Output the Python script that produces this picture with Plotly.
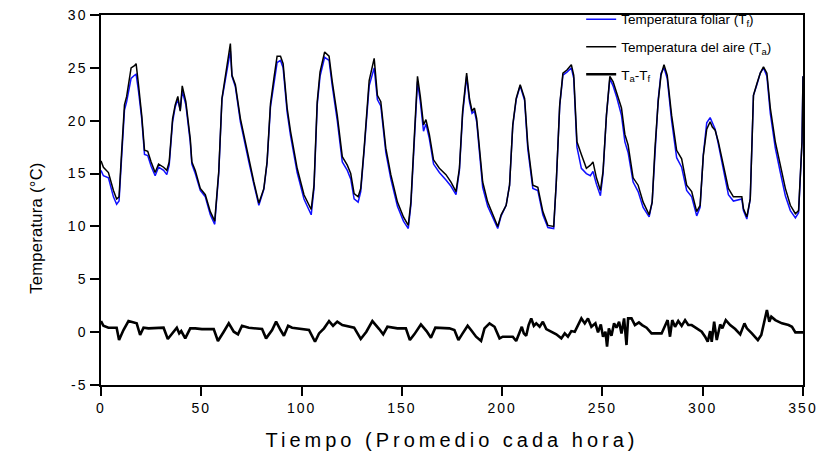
import plotly.graph_objects as go

# Air temperature (Ta) vertices: hour, °C
hours_ta = [0, 1.2, 3.7, 6.2, 7.8, 9, 10.3, 11.7, 12.8, 15, 16.7, 17.5, 18.7, 20.3, 21.7, 23.3, 25, 27, 28.7,
            31.2, 32.8, 34, 35.7, 37, 38.3, 39.2, 39.5, 40.5, 42.3, 44.5, 45.3, 47, 49.5, 52, 54.5, 56.7,
            58.7, 60.3, 62.3, 64.5, 65.3, 67, 69.5, 71.7, 73.7, 76.2, 78.7, 81.2, 82.8, 84.5,
            86.2, 87.8, 89.5, 90.8, 92.8, 94.5, 97.8, 101.2, 104.8, 106.2, 107.8, 109.2, 111.5, 113.7,
            115.3, 117.8, 120.3, 122.8, 124.5, 126.2, 128.2, 129.5, 131.2, 133.7, 136.2, 137.8, 139.5,
            142, 144.5, 147.8, 150.8, 153.2, 154.5, 156.2, 157.8, 159.2, 160.8, 162, 163.7, 165.8,
            168.7, 172, 174.5, 177, 178.7, 180.3, 182.3, 183.7, 185, 186.2, 187.3, 188.7, 190.3, 192.8,
            195.3, 197.8, 199.5, 202, 203.7, 205.3, 207, 209, 211.2, 212.8, 215.3, 217.8, 220.3, 222.8,
            225.7, 227, 228.7, 230.3, 232.3, 234.5, 235.7, 237.3, 239.5, 242, 244, 245.3, 247, 249,
            250.3, 252, 253.7, 255.3, 257, 259.5, 261.2, 262.8, 265.3, 267.8, 270.3, 273.3, 274.8,
            276.2, 277.8, 279.2, 280.7, 282.3, 284.5, 287, 289.5, 292, 294.5, 297, 298.7, 300.3, 302,
            303.7, 304.8, 306.2, 307.8, 310.3, 312.8, 315.3, 318.2, 319.5, 320.3, 322, 323.7, 325.3,
            327, 328.7, 330.3, 332, 333.7, 336.2, 338.7, 341.2, 343.7, 346.2, 347.8, 349.5, 350]
temp_ta = [16.2, 15.6, 15.1, 13.4, 12.6, 12.8, 17.1, 21.5, 22.3, 25.0, 25.2, 25.4, 23.4, 20.5, 17.2, 17.1, 16.1, 15.1, 15.9,
           15.6, 15.3, 16.1, 20.2, 21.5, 22.3, 21.5, 20.9, 23.3, 21.8, 18.3, 16.1, 15.3, 13.6, 13.0, 11.4, 10.5,
           15.2, 22.1, 24.6, 27.3, 24.3, 23.4, 20.2, 18.2, 16.4, 14.2, 12.2, 13.6, 16.1, 21.6,
           24.0, 26.1, 26.1, 25.4, 21.2, 19.0, 15.5, 13.0, 11.6, 13.9, 21.8, 24.6, 26.5, 26.1,
           23.7, 20.5, 16.6, 15.8, 15.0, 13.1, 12.8, 13.6, 17.4, 23.8, 25.9, 22.4, 21.8,
           17.4, 14.9, 12.3, 10.9, 10.1, 12.3, 18.0, 24.2, 22.3, 19.6, 20.1, 18.7, 16.3,
           15.5, 14.9, 14.2, 13.3, 15.5, 20.9, 24.5, 22.1, 20.9, 21.2, 20.2, 17.4, 14.2, 12.3,
           11.1, 10.0, 11.1, 12.0, 13.9, 19.6, 22.1, 23.4, 22.1, 17.7, 13.9, 13.7, 11.4, 10.1,
           10.0, 14.2, 21.5, 24.5, 24.8, 25.3, 24.3, 18.0, 16.8, 15.5, 15.8, 16.1, 14.6, 13.4,
           15.2, 20.5, 24.2, 23.7, 22.7, 21.2, 18.7, 17.7, 14.6, 13.9, 12.3, 11.1, 12.3,
           17.4, 21.8, 24.3, 25.3, 24.3, 20.5, 17.2, 16.4, 13.9, 13.3, 11.4, 12.0, 16.7, 19.2,
           19.9, 19.4, 19.1, 18.0, 15.8, 13.6, 12.8, 12.8, 12.8, 11.7, 10.9, 12.6, 22.4,
           23.5, 24.5, 25.1, 24.5, 21.2, 18.0, 15.8, 13.6, 12.0, 11.2, 11.5, 18.0, 24.2]

# Leaf temperature (Tf) vertices: hour, °C
hours_tf = hours_ta
temp_tf = [15.3, 14.8, 14.6, 12.8, 12.1, 12.4, 16.6, 21.0, 21.8, 24.0, 24.3, 24.4, 22.8, 20.2, 16.8, 16.7, 15.7, 14.8, 15.6,
           15.3, 14.9, 15.8, 19.9, 21.3, 22.0, 21.4, 21.0, 22.8, 21.5, 18.0, 15.9, 15.0, 13.4, 12.8, 11.1, 10.2,
           15.0, 22.0, 24.3, 26.6, 24.2, 23.2, 19.9, 17.8, 16.1, 14.0, 12.0, 13.5, 16.0, 21.3,
           23.6, 25.5, 25.7, 25.0, 20.8, 18.6, 15.1, 12.6, 11.1, 13.6, 21.5, 24.2, 26.0, 25.7,
           23.3, 20.0, 16.1, 15.3, 14.5, 12.6, 12.3, 13.3, 17.2, 23.3, 25.0, 22.0, 21.4,
           17.0, 14.5, 11.9, 10.5, 9.8, 12.0, 17.8, 23.7, 21.8, 19.0, 19.7, 18.3, 15.9,
           15.1, 14.4, 13.8, 13.0, 15.3, 20.6, 24.2, 21.8, 20.7, 20.9, 19.9, 17.0, 13.7, 11.9,
           10.8, 9.8, 11.0, 12.0, 13.9, 19.5, 22.0, 23.3, 21.9, 17.3, 13.6, 13.4, 11.1, 9.9,
           9.8, 14.2, 21.4, 24.3, 24.6, 25.0, 24.0, 17.5, 15.5, 15.0, 14.8, 15.2, 14.0, 12.9,
           15.0, 20.5, 24.0, 23.3, 22.3, 20.5, 18.0, 17.0, 14.2, 13.3, 11.8, 10.9, 12.3,
           17.4, 22.0, 24.5, 25.0, 24.0, 20.0, 16.5, 15.6, 13.4, 12.8, 11.0, 11.8, 16.8, 19.8,
           20.3, 19.8, 19.2, 17.8, 15.3, 13.0, 12.4, 12.5, 12.6, 11.5, 10.7, 12.6, 22.4,
           23.4, 24.5, 25.0, 24.2, 20.7, 17.4, 15.1, 12.9, 11.5, 10.8, 11.3, 18.0, 24.2]

# Difference Ta - Tf vertices: hour, °C
hours_diff = [0, 1.2, 3.7, 7.8, 9, 11.2, 13.7, 16.2, 17.8, 19.5, 21.2, 23.7, 27.8, 31.2, 33.3, 35.7, 37.8, 39, 40,
              42, 44.5, 47, 50.3, 56.2, 58.3, 61.2, 63.7, 66.2, 68.3, 70.3, 73.7, 80.3, 82.3, 85.3, 87.3,
              89.5, 91.2, 93.3, 95.3, 103.7, 106.7, 108.7, 111.2, 113.7, 115.7, 117.8, 120.3, 126.2, 129.5,
              132.3, 135.3, 138.7, 140.7, 142.8, 147.8, 152, 154, 156.2, 159.5, 162.3, 164.5, 166.7,
              173.7, 176.2, 178.2, 180.3, 182.8, 184.5, 187, 189.5, 191.2, 193.7, 196.2, 198.7, 200.3,
              202, 205.3, 207, 208.7, 209.8, 210.8, 212, 213.2, 214.5, 215.8, 217, 218.7, 220.3, 222,
              224.5, 227, 229.5, 231.2, 232.8, 234.5, 236.2, 237.8, 239.5, 241.2, 242.8, 244.5, 246.5,
              247.8, 249.2, 250.3, 251.5, 252.3, 253.2, 254.5, 255.8, 257, 258.3, 259.5, 260.8, 262,
              262.8, 264.5, 266.2, 268.2, 269.8, 272, 274.5, 279.5, 281.2, 282.5, 283.7, 284.8, 286.2,
              287.8, 289.5, 291.2, 292.8, 294.5, 297, 299.5, 301.2, 302.5, 303.7, 304.5, 305.7, 307,
              308.7, 309.8, 311.5, 313.7, 316.2, 318.7, 320.8, 322, 324.5, 327.5, 329.2, 330.3, 332,
              333.2, 334.2, 336.2, 339.5, 342.8, 344.5, 346.2, 350]
temp_diff = [1.05, 0.6, 0.42, 0.42, -0.75, 0.2, 1.05, 0.92, 0.83, -0.27, 0.42, 0.36, 0.36, 0.42, -0.65, -0.12, 0.42, -0.12, 0.1,
             -0.59, 0.36, 0.36, 0.29, 0.29, -0.84, 0.04, 0.83, 0.04, -0.21, 0.6, 0.42, 0.29, -0.59, 0.2, 0.99,
             0.2, -0.34, 0.6, 0.42, 0.2, -0.91, -0.12, 0.36, 1.05, 0.6, 0.99, 0.67, 0.42, -0.65,
             0.04, 1.05, 0.29, -0.21, 0.51, 0.36, 0.36, -0.75, -0.21, 0.73, 0.1, -0.53, 0.42,
             0.36, 0.2, -0.75, -0.12, 0.6, 0.2, -0.43, -0.84, 0.36, 0.83, 0.51, -0.59, -0.43,
             -0.43, -0.43, -0.84, 0.1, 0.51, -0.12, -0.34, 0.67, 1.3, 0.6, 0.83, 0.51, 0.99, 0.29,
             0.04, -0.21, -0.59, -0.12, -0.43, 0.1, 0.04, 0.6, 1.3, 0.83, 1.3, 0.51, 0.83,
             -0.02, 0.73, -0.43, 0.04, -1.38, 0.36, -0.34, 0.83, 0.42, 0.99, -0.12, 1.3, -1.22,
             1.3, 1.3, 0.67, 0.92, 0.67, 0.42, -0.12, -0.12, 0.51, 1.14, -0.43, 1.14, 0.51,
             1.05, 0.6, 1.14, 0.67, 0.67, 0.36, 0.04, -0.43, -0.91, 0.1, -0.91, 0.99, -0.75,
             0.73, 0.36, 1.14, 0.67, 0.29, -0.21, 0.83, 0.36, -0.12, -0.75, -0.27, 0.6, 2.09,
             0.99, 1.46, 1.14, 0.83, 0.67, 0.51, -0.02, -0.02]

x_ticks = [0, 50, 100, 150, 200, 250, 300, 350]
y_ticks = [-5, 0, 5, 10, 15, 20, 25, 30]
y_ticklabels = ["-5", "0", "5", "10", "15", "20", "25", "30"]

FONT = "Liberation Sans, Arial, sans-serif"

fig = go.Figure()
fig.add_trace(go.Scatter(x=hours_tf, y=temp_tf, mode="lines", name="Temperatura foliar (T<sub>f</sub>)",
                         legendgroup="tf", line=dict(color="#1010ff", width=1.5)))
fig.add_trace(go.Scatter(x=hours_ta, y=temp_ta, mode="lines", name="Temperatura del aire (T<sub>a</sub>)",
                         legendgroup="ta", line=dict(color="black", width=1.5)))
fig.add_trace(go.Scatter(x=hours_diff, y=temp_diff, mode="lines", name="T<sub>a</sub>-T<sub>f</sub>",
                         legendgroup="d", line=dict(color="black", width=2.6)))

axis_common = dict(showgrid=False, zeroline=False, showline=True, linecolor="black", linewidth=1.5,
                   mirror=True, ticks="outside", ticklen=9, tickwidth=1.5, tickcolor="black",
                   tickfont=dict(family=FONT, size=14, color="black"), automargin=False)

fig.update_layout(
    width=833, height=468,
    margin=dict(l=101, r=30, t=15, b=83, autoexpand=False),
    plot_bgcolor="white", paper_bgcolor="white",
    font=dict(family=FONT, color="black"),
    xaxis=dict(range=[0, 350], tickvals=x_ticks, title=dict(text="Tiempo (Promedio cada hora)",
               font=dict(family=FONT, size=20), standoff=18), **axis_common),
    yaxis=dict(range=[-5, 30], tickvals=y_ticks, ticktext=y_ticklabels, **axis_common),
    legend=dict(x=0.684, y=1.03, xanchor="left", yanchor="top", bgcolor="rgba(0,0,0,0)",
                font=dict(family=FONT, size=13.5), itemwidth=30, tracegroupgap=7),
    showlegend=True,
)

# y-axis title placed as a rotated annotation (reference title sits below the plot centre)
fig.add_annotation(text="Temperatura (°C)", xref="paper", yref="paper",
                   x=-0.093, y=0.425, xanchor="center", yanchor="middle", textangle=-90,
                   showarrow=False, font=dict(family=FONT, size=16.5, color="black"))

post = """
document.body.style.margin='0';
var gd=document.getElementById('{plot_id}');
function sp(sel, v){gd.querySelectorAll(sel).forEach(function(t){t.style.letterSpacing=v;});}
sp('.xtitle','4px');
sp('.annotation-text','0.3px');
sp('.xtick text','2px');
sp('.ytick text','2px');
"""

fig.write_html("out.html", post_script=post, config={"displayModeBar": False})
